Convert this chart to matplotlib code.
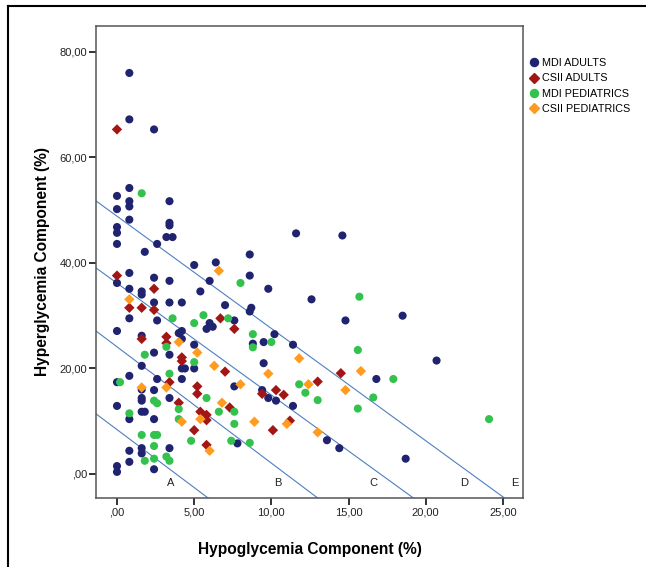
import matplotlib
matplotlib.use("Agg")
import matplotlib.pyplot as plt
from matplotlib.lines import Line2D

plt.rcParams['font.family'] = ['Liberation Sans', 'DejaVu Sans']

# (hypoglycemia %, hyperglycemia %)
mdi_adults_x = [0.8, 0.8, 2.4, 0.8, 0.0, 0.8, 0.8, 3.4, 0.0, 0.8, 3.4, 3.4, 0.0, 0.0, 11.6, 14.6,
                3.2, 3.6, 0.0, 2.6, 1.8, 8.6, 5.0, 6.4, 8.6, 6.0, 9.8, 0.8, 0.0, 2.4, 3.4, 0.8,
                1.6, 1.6, 5.4, 2.4, 3.4, 4.2, 0.8, 2.6, 7.0, 8.7, 8.6, 6.0, 6.2, 5.8, 7.6, 0.0,
                4.2, 4.0, 1.6, 4.2, 5.0, 8.8, 9.5, 10.2, 11.4, 12.6, 14.8, 18.5, 20.7, 16.8, 2.4,
                3.4, 5.0, 4.2, 4.4, 9.5, 1.6, 0.8, 0.0, 4.2, 2.6, 1.6, 2.4, 1.6, 3.4, 7.6, 9.4,
                9.8, 10.3, 11.4, 0.0, 1.6, 1.8, 1.6, 2.4, 0.8, 7.8, 13.6, 14.4, 18.7, 3.4, 1.6,
                1.6, 0.8, 0.8, 2.4, 0.0, 0.0]
mdi_adults_y = [76.0, 67.2, 65.3, 54.2, 52.7, 51.7, 50.7, 51.7, 50.2, 48.2, 47.6, 47.1, 46.8, 45.7,
                45.6, 45.2, 44.9, 44.9, 43.6, 43.6, 42.1, 41.6, 39.6, 40.1, 37.6, 36.6, 35.1, 38.1,
                36.2, 37.2, 36.6, 35.1, 34.6, 34.0, 34.6, 32.5, 32.5, 32.5, 29.5, 29.1, 32.0, 31.5,
                30.8, 28.6, 27.9, 27.5, 29.1, 27.1, 27.1, 26.7, 26.2, 25.6, 24.5, 24.7, 25.0, 26.5,
                24.5, 33.1, 29.1, 30.0, 21.5, 18.0, 23.0, 22.6, 20.0, 20.0, 20.0, 21.0, 20.5, 18.6,
                17.4, 18.0, 18.0, 16.0, 15.9, 14.4, 14.4, 16.6, 15.9, 14.4, 13.9, 12.9, 12.9, 13.9,
                11.8, 11.8, 10.4, 10.4, 5.8, 6.4, 4.9, 2.9, 4.9, 4.9, 3.9, 4.4, 2.3, 0.9, 1.5, 0.4]

csii_adults_x = [0.0, 0.0, 2.4, 0.8, 1.6, 2.4, 6.7, 7.6, 1.6, 3.2, 3.2, 4.2, 4.2, 7.0, 3.4, 5.2,
                 5.2, 9.4, 10.3, 10.8, 4.0, 5.4, 5.8, 5.8, 7.3, 10.1, 11.2, 5.0, 5.8, 14.5, 13.0]
csii_adults_y = [65.3, 37.6, 35.1, 31.5, 31.5, 31.1, 29.5, 27.5, 25.6, 26.0, 24.8, 22.1, 21.4, 19.4,
                 17.4, 16.6, 15.2, 15.2, 15.9, 15.0, 13.5, 11.8, 11.2, 10.2, 12.6, 8.3, 10.1, 8.3,
                 5.5, 19.1, 17.5]

mdi_ped_x = [1.6, 8.0, 3.6, 5.6, 5.0, 7.2, 8.8, 8.8, 10.0, 3.2, 1.8, 5.0, 0.2, 3.4, 5.8, 2.4, 2.6,
             4.0, 0.8, 4.0, 6.6, 7.6, 7.6, 4.8, 7.4, 8.6, 1.6, 2.4, 2.6, 2.4, 1.8, 2.4, 3.2, 3.4,
             15.7, 15.6, 17.9, 11.8, 12.2, 16.6, 13.0, 15.6, 24.1]
mdi_ped_y = [53.2, 36.2, 29.5, 30.1, 28.6, 29.5, 26.5, 24.0, 25.0, 24.1, 22.6, 21.2, 17.4, 19.0,
             14.4, 13.9, 13.4, 12.3, 11.5, 10.4, 11.8, 11.8, 9.5, 6.3, 6.3, 5.9, 7.4, 7.4, 7.4,
             5.3, 2.5, 2.9, 3.3, 2.5, 33.6, 23.5, 18.0, 17.0, 15.4, 14.5, 14.0, 12.4, 10.4]

csii_ped_x = [6.6, 0.8, 4.0, 5.2, 6.3, 9.8, 11.8, 3.2, 1.6, 8.0, 4.2, 5.4, 6.8, 8.9, 11.0, 6.0,
              15.8, 12.4, 14.8, 13.0]
csii_ped_y = [38.5, 33.1, 25.0, 23.0, 20.5, 19.0, 21.9, 16.4, 16.4, 17.0, 9.9, 10.4, 13.5, 9.9,
              9.5, 4.4, 19.5, 17.0, 15.9, 7.9]

# zone boundary lines: y where each meets the left edge, x where it meets the bottom edge
zone_left_y = [11.4, 27.1, 39.05, 51.75]
zone_bottom_x = [5.9, 13.0, 19.2, 25.1]
zone_labels = ['A', 'B', 'C', 'D', 'E']
zone_label_x = [3.5, 10.4, 16.6, 22.5, 25.8]

xlim = (-1.36, 26.3)
ylim = (-4.55, 84.9)

navy = '#1f2370'
red = '#a31616'
green = '#34c24e'
orange = '#ff9c1f'

fig = plt.figure(figsize=(6.46, 5.67), dpi=100)
ax = fig.add_axes([96 / 646, 1 - 498 / 567, 427 / 646, 472 / 567])

for ly, bx in zip(zone_left_y, zone_bottom_x):
    ax.plot([xlim[0], bx], [ly, ylim[0]], color='#4f7fc0', lw=0.8, zorder=1)

ax.scatter(mdi_adults_x, mdi_adults_y, s=34, marker='o', color=navy, edgecolors='none', zorder=3)
ax.scatter(csii_adults_x, csii_adults_y, s=28, marker='D', color=red, edgecolors='none', zorder=3)
ax.scatter(mdi_ped_x, mdi_ped_y, s=34, marker='o', color=green, edgecolors='none', zorder=3)
ax.scatter(csii_ped_x, csii_ped_y, s=28, marker='D', color=orange, edgecolors='none', zorder=3)

for lab, zx in zip(zone_labels, zone_label_x):
    ax.text(zx, -1.7, lab, fontsize=8, ha='center', va='center', color='#222222')

ax.set_xlim(xlim)
ax.set_ylim(ylim)
ax.set_xticks([0, 5, 10, 15, 20, 25])
ax.set_xticklabels([',00', '5,00', '10,00', '15,00', '20,00', '25,00'])
ax.set_yticks([0, 20, 40, 60, 80])
ax.set_yticklabels([',00', '20,00', '40,00', '60,00', '80,00'])
ax.tick_params(length=5, width=1.4, color='#333333', labelsize=8, pad=1.5, labelcolor='#222222')

for sp in ax.spines.values():
    sp.set_color('#555555')
    sp.set_linewidth(1.1)

ax.set_xlabel('Hypoglycemia Component (%)', fontsize=11.2, fontweight='bold', labelpad=18)
ax.set_ylabel('Hyperglycemia Component (%)', fontsize=11.2, fontweight='bold', labelpad=7)

handles = [
    Line2D([], [], ls='none', marker='o', ms=5.8, color=navy, label='MDI ADULTS'),
    Line2D([], [], ls='none', marker='D', ms=5.0, color=red, label='CSII ADULTS'),
    Line2D([], [], ls='none', marker='o', ms=5.8, color=green, label='MDI PEDIATRICS'),
    Line2D([], [], ls='none', marker='D', ms=5.0, color=orange, label='CSII PEDIATRICS'),
]
fig.legend(handles=handles, loc='upper left', bbox_to_anchor=(530 / 646, 1 - 58 / 567),
           frameon=False, fontsize=7.8, handlelength=0.7, handletextpad=0.4,
           labelspacing=0.5, borderpad=0, borderaxespad=0)

# outer border (left and top edges visible)
fig.add_artist(Line2D([8 / 646, 8 / 646], [0, 1 - 6 / 567], color='black', lw=1.5))
fig.add_artist(Line2D([8 / 646, 1], [1 - 6 / 567, 1 - 6 / 567], color='black', lw=1.5))

fig.savefig('out.png', dpi=100)
